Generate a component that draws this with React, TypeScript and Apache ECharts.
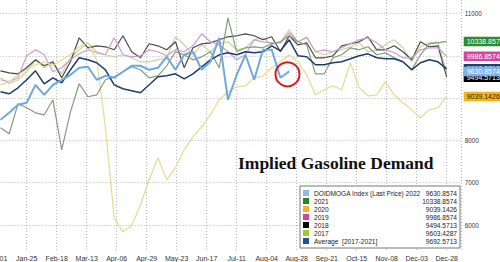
import React, { useEffect, useRef } from 'react';
import * as echarts from 'echarts';

// x-axis tick labels, one every 24 days from Jan-01
const tickLabels = ['Jan-01', 'Jan-25', 'Feb-18', 'Mar-13', 'Apr-06', 'Apr-29', 'May-23', 'Jun-17', 'Jul-11', 'Aug-04', 'Aug-28', 'Sep-21', 'Oct-15', 'Nov-08', 'Dec-03', 'Dec-28'];

// weekly values, one per week of the year
const y2017 = [9480, 9338, 9433, 9622, 9905, 9716, 9835, 9574, 9953, 10142, 10307, 10095, 10024, 9976, 10024, 9953, 9858, 9858, 9905, 9953, 10449, 10260, 10024, 10260, 10095, 10284, 10331, 10142, 10189, 10378, 10426, 10260, 10331, 10615, 10331, 10449, 10095, 10024, 10095, 10142, 10213, 10307, 10095, 10142, 10260, 10378, 10189, 9858, 10213, 10307, 10331, 9603.4287];
const y2018 = [9645, 9598, 9574, 9716, 9905, 9764, 9858, 9480, 9858, 10426, 10189, 10236, 10213, 10142, 10473, 10095, 9953, 10284, 10236, 10142, 10331, 9716, 10189, 10284, 10307, 10378, 10449, 10473, 10520, 10473, 10378, 10449, 10095, 10473, 10260, 10307, 9953, 9953, 10000, 10236, 10284, 10331, 10449, 10142, 10142, 10236, 10095, 9905, 10331, 10213, 10236, 9494.5713];
const y2019 = [9433, 9385, 9480, 10000, 10142, 10024, 9622, 9716, 9905, 10047, 10142, 10071, 10024, 10426, 10024, 9976, 10000, 10142, 10095, 10000, 10142, 10095, 10236, 10520, 10331, 10260, 10095, 9905, 10024, 10378, 10331, 10307, 10307, 10544, 10331, 10426, 10095, 10142, 10095, 10189, 10284, 10378, 10426, 10307, 10142, 10071, 9953, 9953, 10142, 10189, 10189, 9986.8574];
const y2020 = [9314, 9385, 9551, 9669, 9787, 9858, 9764, 9905, 10024, 10213, 10307, 9905, 8298, 6170, 5839, 5981, 6478, 7069, 7589, 7069, 7352, 7778, 8085, 8322, 8605, 8960, 9149, 9267, 9291, 9480, 9527, 9716, 9858, 10024, 9858, 9551, 9078, 9196, 9291, 9196, 9835, 9243, 9054, 9078, 9385, 9078, 8889, 8723, 8534, 8723, 8771, 9039.1426];
const y2021 = [8298, 8156, 8865, 8771, 8652, 8605, 8960, 7778, 8676, 9338, 9031, 9078, 9433, 9504, 9622, 9740, 9669, 9480, 9527, 9764, 10095, 10024, 9905, 9976, 10095, 9716, 10898, 10095, 10189, 10213, 10189, 10284, 10331, 10473, 10331, 10260, 9574, 9574, 9953, 10024, 10189, 10142, 10213, 10024, 10071, 9953, 9858, 9669, 10024, 10284, 10307, 10338.8574];
const yAvg = [9149, 9102, 9243, 9433, 9645, 9338, 9480, 9362, 9669, 9953, 9905, 9835, 9669, 9314, 9220, 9173, 9125, 9314, 9504, 9527, 9574, 9456, 9574, 9740, 9905, 10024, 10071, 10024, 10095, 10071, 10095, 10236, 10118, 10378, 10000, 9976, 9787, 9787, 9835, 9858, 9929, 10000, 10047, 9953, 9929, 9929, 9858, 9669, 9835, 9905, 9858, 9692.5713];
const y2022 = [8487, 8652, 8842, 8889, 9314, 9078, 9314, 9433, 9551, 9716, 9740, 9433, 9527, 9480, 9622, 9764, 9764, 9669, 9716, 9976, 9669, 10024, 10095, 9669, 9858, 10426, 8960, 9551, 10024, 9433, 10142, 10142, 9480, 9630.8574];

// annotation circle (day of year, value)
const circleAt = [232.6, 9563];

const FONT = 'Liberation Sans';

type S = { name: string; data: number[]; line: string; legend: string; tagBg: string | null; tagFg: string; width: number };

const seriesDefs: S[] = [
  { name: '2017', data: y2017, line: '#c8d59c', legend: '#9ccc2c', tagBg: null, tagFg: '#222', width: 1.2 },
  { name: '2018', data: y2018, line: '#4a4a4a', legend: '#000000', tagBg: '#000000', tagFg: '#fff', width: 1.2 },
  { name: '2019', data: y2019, line: '#cf9ccf', legend: '#d6449c', tagBg: '#d6449c', tagFg: '#fff', width: 1.2 },
  { name: '2020', data: y2020, line: '#e6da92', legend: '#f5b21b', tagBg: '#f3b41e', tagFg: '#2a2000', width: 1.2 },
  { name: '2021', data: y2021, line: '#819e7c', legend: '#238a23', tagBg: '#2b8c31', tagFg: '#fff', width: 1.2 },
  { name: 'Average  [2017-2021]', data: yAvg, line: '#1d3d68', legend: '#1f5494', tagBg: '#1f3f6e', tagFg: '#fff', width: 1.5 },
  { name: 'DOIDMOGA Index (Last Price) 2022', data: y2022, line: '#6fa8dc', legend: '#8dbbe8', tagBg: '#7cb4ea', tagFg: '#fff', width: 2 },
];

const legendOrder = ['DOIDMOGA Index (Last Price) 2022', '2021', '2020', '2019', '2018', '2017', 'Average  [2017-2021]'];
const dayOfWeek = (i: number) => 3 + 7 * i;

export default function App() {
  const ref = useRef<HTMLDivElement>(null);
  useEffect(() => {
    if (!ref.current) return;
    const chart = echarts.init(ref.current, undefined, { renderer: 'svg' });
    const lastMap: Record<string, string> = {};
    seriesDefs.forEach((s) => { lastMap[s.name] = s.data[s.data.length - 1].toFixed(4); });

    const series: any[] = seriesDefs.map((s) => {
      const last = s.data[s.data.length - 1];
      const obj: any = {
        name: s.name,
        type: 'line',
        clip: false,
        data: s.data.map((v, i) => [dayOfWeek(i), v]),
        showSymbol: false,
        symbol: 'none',
        color: s.line,
        lineStyle: { color: s.line, width: s.width },
      };
      if (s.tagBg) {
        obj.markLine = {
          silent: true,
          symbol: ['none', 'none'],
          lineStyle: { color: 'rgba(0,0,0,0)', width: 0, type: 'solid' },
          emphasis: { disabled: true },
          label: {
            show: true,
            position: 'end',
            distance: 2,
            formatter: () => last.toFixed(4),
            backgroundColor: s.tagBg,
            color: s.tagFg,
            fontSize: 7,
            fontFamily: FONT,
            padding: [1.5, 2, 1, 3],
          },
          data: [{ yAxis: last }],
        };
      }
      if (s.name.indexOf('2022') >= 0) {
        obj.markPoint = {
          silent: true,
          symbol: 'circle',
          symbolSize: 24,
          itemStyle: { color: 'rgba(0,0,0,0)', borderColor: '#dd1c1c', borderWidth: 2 },
          label: { show: false },
          data: [{ coord: circleAt }],
        };
      }
      return obj;
    });

    chart.setOption({
      animation: false,
      textStyle: { fontFamily: FONT },
      title: {
        text: 'Implied Gasoline Demand',
        left: 268,
        top: 154,
        padding: 0,
        textStyle: { fontFamily: 'Liberation Serif', fontWeight: 'bold', fontSize: 17.5, color: '#111' },
      },
      legend: {
        orient: 'vertical',
        left: 330,
        top: 186,
        padding: [3, 3, 3, 3],
        itemGap: 0,
        itemWidth: 6,
        itemHeight: 6,
        selectedMode: false,
        borderColor: '#777',
        borderWidth: 1,
        backgroundColor: '#fff',
        icon: 'rect',
        data: legendOrder.map((n) => ({ name: n, itemStyle: { color: seriesDefs.find((s) => s.name === n)!.legend } })),
        formatter: (name: string) => `{n|${name}}{v|${lastMap[name]}}`,
        textStyle: {
          fontSize: 6.6,
          lineHeight: 8,
          color: '#222',
          fontFamily: FONT,
          rich: {
            n: { width: 106, fontSize: 6.6, fontFamily: FONT, color: '#222' },
            v: { width: 37, align: 'right', fontSize: 6.6, fontFamily: FONT, color: '#222' },
          },
        },
      },
      grid: { left: 26.7, right: 38.3, top: 0, bottom: 10, containLabel: false },
      xAxis: {
        type: 'value',
        min: 0,
        max: 372,
        interval: 24,
        axisLine: { show: false },
        axisTick: { show: false },
        axisLabel: {
          fontSize: 7,
          color: '#333',
          margin: 3,
          formatter: (v: number) => {
            const k = Math.round(v / 24);
            return Math.abs(v - k * 24) < 1e-6 && tickLabels[k] ? tickLabels[k] : '';
          },
        },
        splitLine: { show: true, lineStyle: { color: '#b8b8b8', type: [1, 2], width: 1 } },
      },
      yAxis: {
        type: 'value',
        position: 'right',
        min: 5362,
        max: 11319,
        splitNumber: 6,
        minInterval: 1000,
        maxInterval: 1000,
        axisLine: { show: true, lineStyle: { color: '#777', width: 1 } },
        axisTick: { show: true, length: 3, lineStyle: { color: '#555' } },
        axisLabel: { fontSize: 6.3, color: '#333', margin: 3, showMinLabel: false, showMaxLabel: false, formatter: (v: number) => String(Math.round(v)) },
        splitLine: { show: true, showMinLine: false, showMaxLine: false, lineStyle: { color: '#b8b8b8', type: [1, 2], width: 1 } },
      },
      series,
    });
    return () => chart.dispose();
  }, []);
  return <div ref={ref} style={{ position: 'absolute', left: -30, top: 0, width: 530, height: 262, background: '#fff' }} />;
}
